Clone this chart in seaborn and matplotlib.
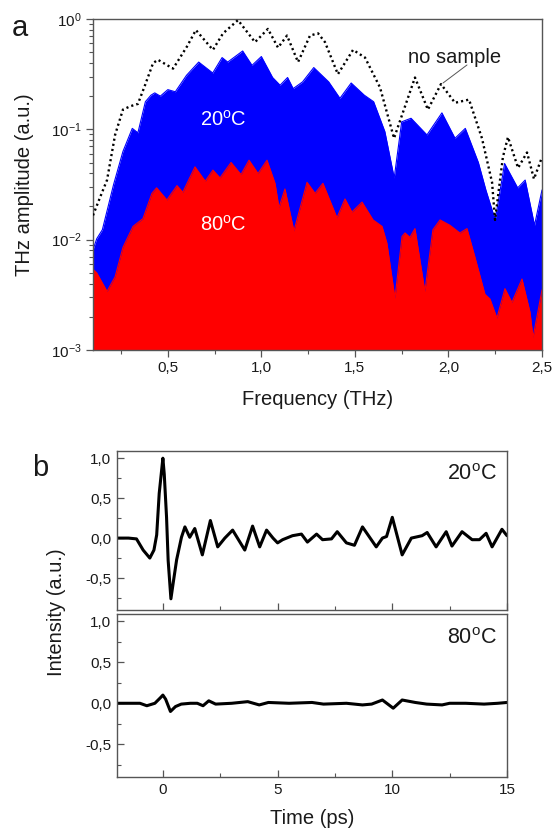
import numpy as np
import pandas as pd
import matplotlib
matplotlib.use("Agg")
import matplotlib.pyplot as plt
from matplotlib.ticker import MultipleLocator, FuncFormatter, LogLocator, LogFormatterSciNotation, NullFormatter
import seaborn as sns

# ---------------- data ----------------
# panel a: THz amplitude spectra
freq_nosample = [0.10, 0.137, 0.175, 0.218, 0.26, 0.30, 0.34, 0.378, 0.421, 0.447, 0.528, 0.602, 0.65,
                 0.741, 0.795, 0.875, 0.966, 1.035, 1.089, 1.137, 1.196, 1.26, 1.303, 1.34, 1.409, 1.49,
                 1.554, 1.634, 1.709, 1.821, 1.89, 1.96, 2.035, 2.11, 2.179, 2.233, 2.249, 2.291, 2.318,
                 2.372, 2.42, 2.457, 2.50]
amp_nosample = [0.0166, 0.024, 0.0347, 0.089, 0.151, 0.162, 0.170, 0.251, 0.398, 0.427, 0.355, 0.562, 0.794,
                0.525, 0.741, 0.977, 0.617, 0.813, 0.550, 0.708, 0.407, 0.708, 0.741, 0.617, 0.316, 0.525,
                0.447, 0.240, 0.083, 0.295, 0.151, 0.257, 0.174, 0.186, 0.083, 0.0331, 0.0151, 0.056, 0.085,
                0.0447, 0.0617, 0.0355, 0.056]

freq_20C = [0.10, 0.12, 0.15, 0.21, 0.26, 0.31, 0.34, 0.38, 0.41, 0.43, 0.46, 0.50, 0.54, 0.60, 0.665,
            0.74, 0.79, 0.82, 0.90, 0.95, 1.00, 1.06, 1.10, 1.14, 1.17, 1.22, 1.28, 1.36, 1.42, 1.48,
            1.55, 1.60, 1.66, 1.71, 1.75, 1.80, 1.885, 1.965, 2.035, 2.09, 2.16, 2.20, 2.25, 2.30,
            2.37, 2.41, 2.46, 2.50]
amp_20C = [0.0081, 0.0102, 0.0123, 0.0316, 0.063, 0.102, 0.093, 0.178, 0.204, 0.214, 0.200, 0.229, 0.219,
           0.309, 0.407, 0.324, 0.447, 0.407, 0.513, 0.380, 0.457, 0.295, 0.251, 0.295, 0.234, 0.269,
           0.363, 0.269, 0.191, 0.263, 0.204, 0.178, 0.0955, 0.0363, 0.117, 0.126, 0.089, 0.141, 0.083,
           0.102, 0.050, 0.0282, 0.0151, 0.049, 0.0295, 0.0347, 0.0135, 0.0282]

freq_80C = [0.10, 0.12, 0.175, 0.218, 0.26, 0.314, 0.367, 0.415, 0.44, 0.495, 0.549, 0.58, 0.645, 0.70,
            0.741, 0.779, 0.838, 0.891, 0.934, 0.982, 1.03, 1.073, 1.094, 1.126, 1.174, 1.244, 1.287,
            1.329, 1.404, 1.447, 1.484, 1.538, 1.597, 1.645, 1.671, 1.714, 1.752, 1.768, 1.794, 1.821,
            1.874, 1.917, 1.955, 2.008, 2.061, 2.099, 2.142, 2.195, 2.222, 2.259, 2.302, 2.339, 2.393,
            2.436, 2.452, 2.50]
amp_80C = [0.0054, 0.0050, 0.0034, 0.0046, 0.0085, 0.0132, 0.0155, 0.0263, 0.0295, 0.0229, 0.0309, 0.0269,
           0.0457, 0.0339, 0.0427, 0.0363, 0.0501, 0.0389, 0.0525, 0.0398, 0.0525, 0.0324, 0.0195, 0.0288,
           0.0120, 0.0331, 0.0263, 0.0324, 0.0158, 0.0234, 0.0178, 0.0219, 0.0151, 0.0132, 0.0093,
           0.00295, 0.0107, 0.0115, 0.0105, 0.0126, 0.0034, 0.0123, 0.0151, 0.0135, 0.0115, 0.0126,
           0.0069, 0.0032, 0.0029, 0.00195, 0.0036, 0.0027, 0.0044, 0.0022, 0.0013, 0.0035]

# panel b: time-domain signals
time_20C = [-2.0, -1.5, -1.15, -0.86, -0.57, -0.39, -0.27, -0.16, 0.0, 0.06, 0.16, 0.23, 0.35, 0.45, 0.6,
            0.81, 0.96, 1.17, 1.39, 1.72, 2.07, 2.39, 2.7, 3.04, 3.57, 3.91, 4.22, 4.52, 4.8, 5.0, 5.22,
            5.65, 6.04, 6.3, 6.7, 6.96, 7.35, 7.6, 8.0, 8.35, 8.7, 9.3, 9.57, 9.75, 10.0, 10.43, 10.83,
            11.3, 11.52, 11.91, 12.35, 12.6, 13.04, 13.48, 13.8, 14.09, 14.35, 14.78, 15.0]
sig_20C = [0.0, 0.0, -0.01, -0.15, -0.25, -0.15, 0.04, 0.56, 1.0, 0.8, 0.26, -0.28, -0.76, -0.56, -0.27,
           0.01, 0.14, 0.01, 0.12, -0.21, 0.22, -0.11, 0.0, 0.10, -0.15, 0.15, -0.11, 0.10, 0.0, -0.06, -0.02,
           0.03, 0.05, -0.05, 0.05, -0.02, -0.01, 0.08, -0.06, -0.09, 0.14, -0.11, 0.0, 0.02, 0.26, -0.21, 0.0,
           0.03, 0.07, -0.11, 0.08, -0.10, 0.08, -0.02, -0.02, 0.06, -0.11, 0.11, 0.03]

time_80C = [-2.0, -1.0, -0.7, -0.35, -0.1, 0.0, 0.12, 0.33, 0.55, 0.8, 1.2, 1.5, 1.75, 2.0, 2.3, 3.0,
            3.7, 4.2, 4.6, 5.5, 6.5, 7.0, 8.0, 8.7, 9.1, 9.57, 10.04, 10.43, 11.0, 11.5, 12.17, 12.5, 13.2,
            14.0, 14.6, 15.0]
sig_80C = [0.0, 0.0, -0.03, 0.0, 0.07, 0.10, 0.05, -0.10, -0.04, -0.01, 0.0, 0.0, -0.03, 0.03, -0.01, 0.0,
           0.02, -0.02, 0.01, 0.0, 0.01, -0.01, 0.0, -0.02, -0.01, 0.04, -0.06, 0.04, 0.01, -0.01, -0.02, 0.0,
           0.0, -0.01, 0.0, 0.01]

freq_ticks = [0.5, 1.0, 1.5, 2.0, 2.5]
time_ticks = [0, 5, 10, 15]
intensity_ticks = [-0.5, 0.0, 0.5, 1.0]

# ---------------- style ----------------
sns.set_theme(style="ticks")
FONT = ["Liberation Sans", "DejaVu Sans"]
plt.rcParams["font.family"] = FONT
plt.rcParams["mathtext.fontset"] = "custom"
plt.rcParams["mathtext.rm"] = "Liberation Sans"
plt.rcParams["mathtext.it"] = "Liberation Sans:italic"
plt.rcParams["axes.unicode_minus"] = False

TXT = "#1a1a1a"
SPINE = "#555555"

fig = plt.figure(figsize=(5.53, 8.30), dpi=100)
W, H = 553.0, 830.0


def ax_rect(l, t, r, b):
    return [l / W, 1 - b / H, (r - l) / W, (b - t) / H]


comma = FuncFormatter(lambda v, p: ("%.1f" % v).replace(".", ","))
comma_int = FuncFormatter(lambda v, p: "%d" % round(v))

# ---------------- panel a ----------------
ax = fig.add_axes(ax_rect(93, 19, 542, 350))
ax.set_yscale("log")
ax.set_xlim(0.1, 2.5)
ax.set_ylim(1e-3, 1.0)

ax.fill_between(freq_20C, 1e-3, amp_20C, color="#0000ff", lw=0, zorder=1)
ax.fill_between(freq_80C, 1e-3, amp_80C, color="#ff0000", lw=0, zorder=2)
sns.lineplot(x=freq_20C, y=amp_20C, ax=ax, color="#0000ff", lw=0.8, zorder=1)
sns.lineplot(x=freq_80C, y=amp_80C, ax=ax, color="#ff0000", lw=0.8, zorder=2)
sns.lineplot(x=freq_nosample, y=amp_nosample, ax=ax, color="black", lw=1.7,
             linestyle=(0, (0.9, 1.3)), zorder=3)

ax.set_xticks(freq_ticks)
ax.xaxis.set_major_formatter(comma)
ax.xaxis.set_minor_locator(MultipleLocator(0.25))
ax.yaxis.set_major_locator(LogLocator(base=10, numticks=10))
ax.yaxis.set_minor_locator(LogLocator(base=10, subs=np.arange(2, 10), numticks=20))
ax.yaxis.set_major_formatter(LogFormatterSciNotation())
ax.yaxis.set_minor_formatter(NullFormatter())
ax.tick_params(which="major", direction="out", length=5, width=0.9, color=SPINE,
               labelsize=11, labelcolor=TXT, pad=3)
ax.tick_params(which="minor", direction="out", length=3, width=0.8, color=SPINE)
for s in ax.spines.values():
    s.set_color(SPINE)
    s.set_linewidth(1.0)
ax.set_xlabel("")
ax.set_ylabel("")

ax.text(0.29, 0.695, "20$^\\mathregular{o}$C", transform=ax.transAxes, color="white",
        fontsize=14.5, ha="center", va="center")
ax.text(0.29, 0.378, "80$^\\mathregular{o}$C", transform=ax.transAxes, color="white",
        fontsize=14.5, ha="center", va="center")
ax.text(0.806, 0.885, "no sample", transform=ax.transAxes, color=TXT,
        fontsize=14.5, ha="center", va="center")
ax.plot([2.099, 1.971], [0.383, 0.263], color="#555555", lw=0.7, zorder=4)

fig.text(93 / W - 0.0, 1 - 398 / H, "", fontsize=1)
fig.text(317.5 / W, 1 - 399 / H, "Frequency (THz)", ha="center", va="center",
         fontsize=14.5, color=TXT)
fig.text(25 / W, 1 - 185 / H, "THz amplitude (a.u.)", ha="center", va="center",
         rotation=90, fontsize=14.5, color=TXT)
fig.text(20 / W, 1 - 28 / H, "a", ha="center", va="center", fontsize=21, color=TXT)

# ---------------- panel b ----------------
axes_b = [fig.add_axes(ax_rect(117, 451, 507, 610)),
          fig.add_axes(ax_rect(117, 614, 507, 777))]
series_b = [(time_20C, sig_20C, "20$^\\mathregular{o}$C"),
            (time_80C, sig_80C, "80$^\\mathregular{o}$C")]
for i, (axb, (t, s, lab)) in enumerate(zip(axes_b, series_b)):
    df = pd.DataFrame({"t": t, "s": s})
    sns.lineplot(data=df, x="t", y="s", ax=axb, color="black", lw=2.2)
    axb.set_xlim(-2, 15)
    axb.set_ylim(-0.9, 1.09)
    axb.set_xticks(time_ticks)
    axb.set_yticks(intensity_ticks)
    axb.xaxis.set_minor_locator(MultipleLocator(2.5))
    axb.yaxis.set_minor_locator(MultipleLocator(0.25))
    axb.yaxis.set_major_formatter(comma)
    axb.xaxis.set_major_formatter(comma_int)
    axb.tick_params(which="major", direction="in", length=5, width=0.9, color=SPINE,
                    labelsize=11, labelcolor=TXT, pad=4)
    axb.tick_params(which="minor", direction="in", length=3, width=0.8, color=SPINE)
    for sp in axb.spines.values():
        sp.set_color(SPINE)
        sp.set_linewidth(1.0)
    axb.set_xlabel("")
    axb.set_ylabel("")
    if i == 0:
        axb.tick_params(labelbottom=False)
    axb.text(0.974, 0.85, lab, transform=axb.transAxes, ha="right", va="center",
             fontsize=15.5, color=TXT)

fig.text(57 / W, 1 - 612 / H, "Intensity (a.u.)", ha="center", va="center",
         rotation=90, fontsize=14.5, color=TXT)
fig.text(312 / W, 1 - 818 / H, "Time (ps)", ha="center", va="center",
         fontsize=14.5, color=TXT)
fig.text(40 / W, 1 - 468 / H, "b", ha="center", va="center", fontsize=21, color=TXT)

fig.savefig("out.png", dpi=100)
